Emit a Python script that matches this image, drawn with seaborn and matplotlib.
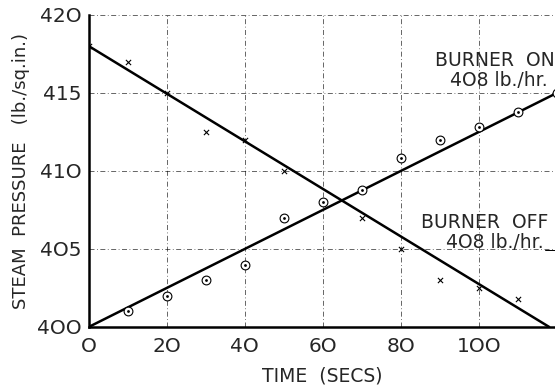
import numpy as np
import pandas as pd
import matplotlib
matplotlib.use("Agg")
import matplotlib.pyplot as plt
import seaborn as sns

# readings every 10 s
time_off = [0, 10, 20, 30, 40, 50, 60, 70, 80, 90, 100, 110]
press_off = [418, 417, 415, 412.5, 412, 410, 408, 407, 405, 403, 402.5, 401.8]
time_on = [10, 20, 30, 40, 50, 60, 70, 80, 90, 100, 110, 120]
press_on = [401, 402, 403, 404, 407, 408, 408.8, 410.8, 412, 412.8, 413.8, 415]

# fitted lines (end points)
fit_off_t = [0, 118]
fit_off_p = [418, 400]
fit_on_t = [0, 120]
fit_on_p = [400, 415]

xticks = [0, 20, 40, 60, 80, 100]
yticks = [400, 405, 410, 415, 420]

sns.set_style("white")
plt.rcParams['font.family'] = ['DejaVu Sans']

fig = plt.figure(figsize=(5.55, 3.92), dpi=100)
ax = fig.add_axes([0.160, 0.166, 0.840, 0.796])

off = pd.DataFrame({"t": time_off, "p": press_off})
on = pd.DataFrame({"t": time_on, "p": press_on})

sns.lineplot(x=fit_off_t, y=fit_off_p, ax=ax, color="black", lw=1.8)
sns.lineplot(x=fit_on_t, y=fit_on_p, ax=ax, color="black", lw=1.8)
sns.scatterplot(data=off, x="t", y="p", ax=ax, marker="x", color="black",
                s=14, linewidth=0.8, zorder=5)
sns.scatterplot(data=on, x="t", y="p", ax=ax, marker="o", facecolor="white",
                edgecolor="black", s=40, linewidth=0.8, zorder=5)
sns.scatterplot(data=on, x="t", y="p", ax=ax, marker="o", color="black",
                s=4, linewidth=0, zorder=6)

ax.set_xlim(0, 119.5)
ax.set_ylim(400, 420)
ax.set_xticks(xticks)
ax.set_yticks(yticks)
ax.set_xticklabels([str(v).replace("0", "O") for v in xticks], fontsize=14.5)
ax.set_yticklabels([str(v).replace("0", "O") for v in yticks], fontsize=14.5)
ax.tick_params(axis="x", length=0, pad=7)
ax.tick_params(axis="y", length=0, pad=5)
ax.grid(True, color="black", lw=0.6, ls=(0, (6, 3, 1, 3)), alpha=0.7)
ax.set_axisbelow(True)

for s in ["top", "right"]:
    ax.spines[s].set_visible(False)
for s in ["left", "bottom"]:
    ax.spines[s].set_linewidth(1.8)
    ax.spines[s].set_color("black")

ax.set_xlabel("TIME  (SECS)", fontsize=13.5, labelpad=8)
ax.set_ylabel("STEAM  PRESSURE   (lb./sq.in.)", fontsize=13, labelpad=5)

ax.text(1.0, 0.855, "BURNER  ON", transform=ax.transAxes,
        ha="right", va="center", fontsize=13.5)
ax.text(0.985, 0.79, "4O8 lb./hr.", transform=ax.transAxes,
        ha="right", va="center", fontsize=13.5)
ax.text(0.985, 0.335, "BURNER  OFF", transform=ax.transAxes,
        ha="right", va="center", fontsize=13.5)
ax.text(0.975, 0.27, "4O8 lb./hr.", transform=ax.transAxes,
        ha="right", va="center", fontsize=13.5)
ax.plot([0.978, 1.0], [0.245, 0.245], transform=ax.transAxes,
        color="black", lw=0.7)

fig.savefig("out.png", dpi=100)
